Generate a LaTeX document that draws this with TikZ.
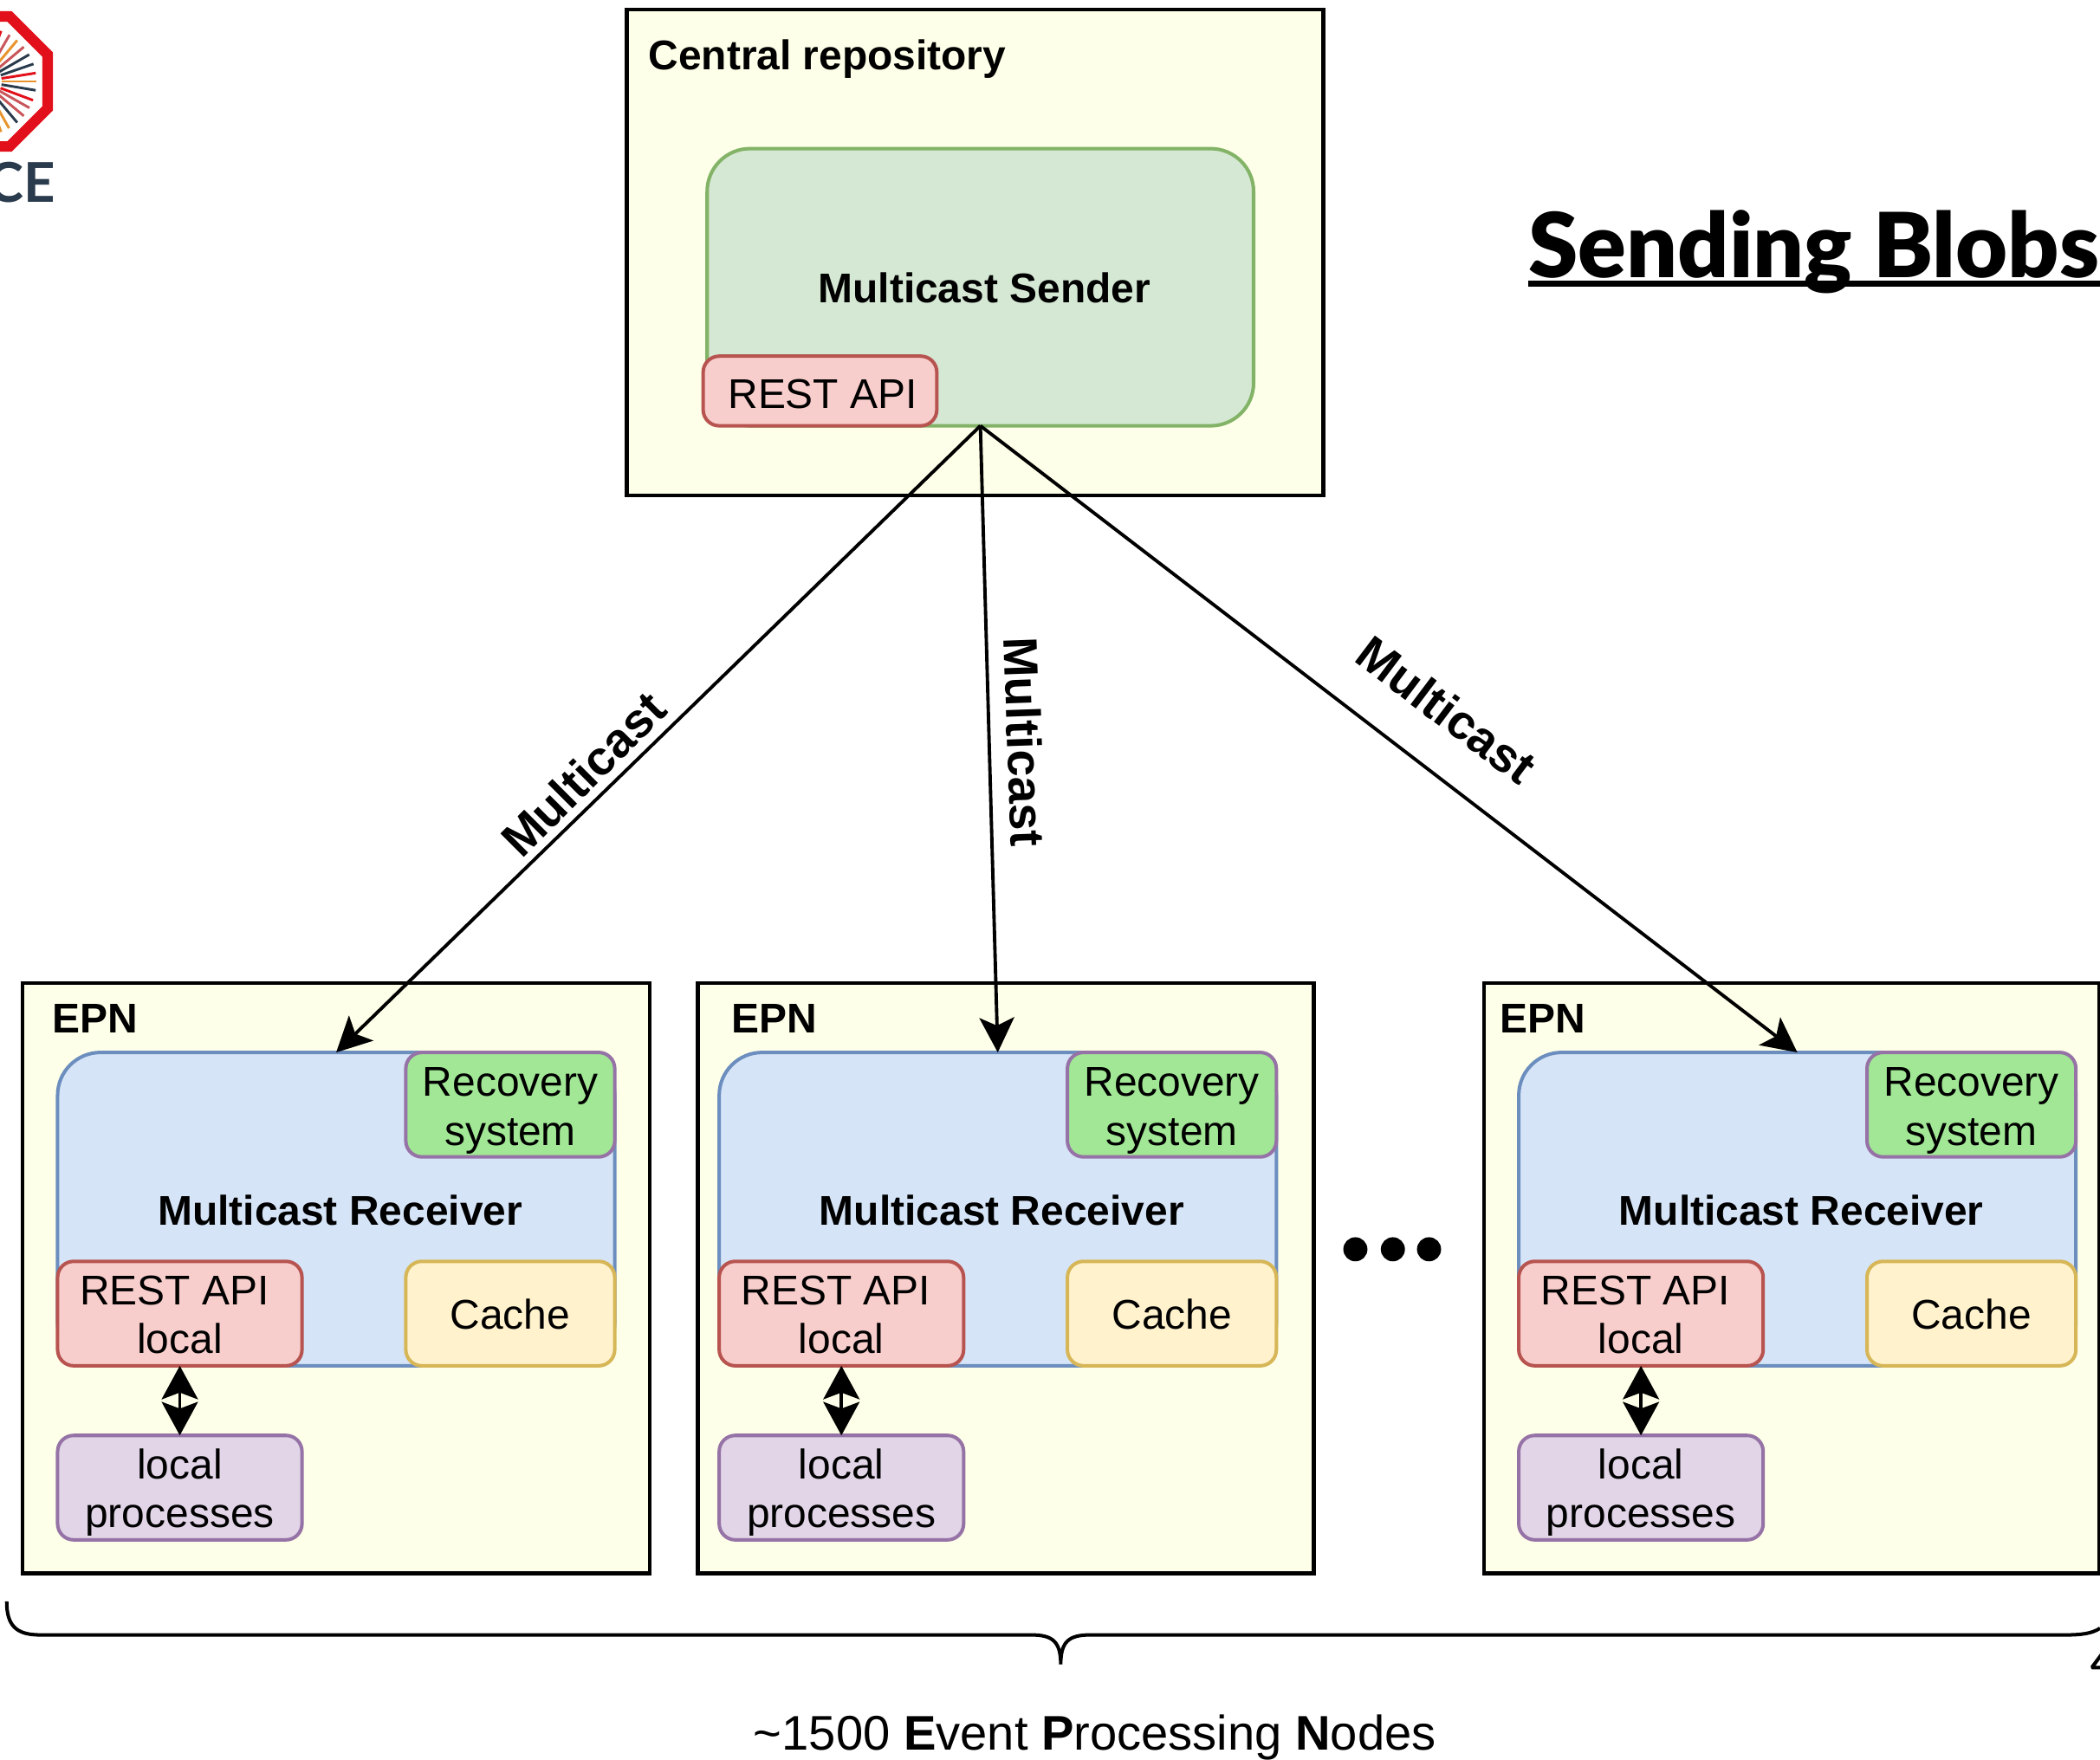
\documentclass[tikz,border=0pt]{standalone}
\usepackage{fontspec}
\setmainfont{Liberation Sans}
\newfontfamily\latofont{Lato}
\newfontfamily\latoblack{Lato Black}
\usetikzlibrary{arrows.meta}
\definecolor{panelfill}{HTML}{FEFFE8}
\definecolor{greenfill}{HTML}{D5E8D4}
\definecolor{greenline}{HTML}{82B366}
\definecolor{redfill}{HTML}{F8CECC}
\definecolor{redline}{HTML}{B85450}
\definecolor{bluefill}{HTML}{D6E4F7}
\definecolor{blueline}{HTML}{6C8EBF}
\definecolor{recfill}{HTML}{A1E795}
\definecolor{purpleline}{HTML}{9673A6}
\definecolor{yellowfill}{HTML}{FFF2CC}
\definecolor{yellowline}{HTML}{D6B656}
\definecolor{purplefill}{HTML}{E1D5E7}
\definecolor{logored}{HTML}{E2101A}
\definecolor{logonavy}{HTML}{2A3B4D}
\definecolor{logoorange}{HTML}{E8942E}
\definecolor{logosalmon}{HTML}{C9565A}
\newcommand{\fs}{\fontsize{31}{36.5}\selectfont}
\newcommand{\dn}[1]{\rule{0pt}{\dimexpr22.6pt+2\dimexpr#1pt\relax\relax}}
\tikzset{
  base/.style={line width=2.6pt,rectangle,inner sep=0pt,outer sep=0pt,align=center,font=\fs},
  panel/.style={base,draw=black,fill=panelfill,line width=2.8pt},
  sender/.style={base,draw=greenline,fill=greenfill,rounded corners=32pt},
  receiver/.style={base,draw=blueline,fill=bluefill,rounded corners=32pt},
  restbox/.style={base,draw=redline,fill=redfill,rounded corners=12pt},
  recbox/.style={base,draw=purpleline,fill=recfill,rounded corners=12pt},
  cachebox/.style={base,draw=yellowline,fill=yellowfill,rounded corners=12pt},
  procbox/.style={base,draw=purpleline,fill=purplefill,rounded corners=12pt},
  label/.style={font=\fs\bfseries,inner sep=0pt},
  mcastlabel/.style={font=\bfseries\fontsize{36}{36}\selectfont,inner sep=0pt},
  mcast/.style={line width=2.5pt,-{Stealth[length=26pt,width=26pt,inset=6pt]}},
  localarrow/.style={line width=2.5pt,{Stealth[length=25pt,width=27pt,inset=5pt]}-{Stealth[length=25pt,width=27pt,inset=5pt]}},
  dot/.style={circle,fill=black,inner sep=0pt,minimum size=18pt},
}
% name, style, x1, y1, x2, y2, text
\newcommand{\bx}[7]{%
  \pgfmathsetmacro{\bw}{#5-#3}\pgfmathsetmacro{\bh}{#6-#4}%
  \node[#2,anchor=north west,minimum width=\bw pt,minimum height=\bh pt] (#1) at (#3,#4) {#7};}
\begin{document}
\begin{tikzpicture}[x=1pt,y=-1pt]
\useasboundingbox (0,0) rectangle (1568,1313.8);
% logo
\begin{scope}
\clip (0,0) rectangle (100,170);
\begin{scope}[scale=0.647]
\draw[draw=logored,line width=7.8pt,fill=white] (-20,19) -- (11,19) -- (55,63) -- (55,125) -- (11,169) -- (-20,169) -- cycle;
\foreach \a/\c in {
 60.6/logoorange, 50/logonavy, 40/logosalmon, 29.5/logosalmon, 20.5/logored, 9.5/logonavy,
 0/logoorange, -9/logored, -19/logonavy, -30/logonavy, -40/logosalmon, -50/logoorange, -60/logosalmon, -70/logored, 70/logoorange}
  \draw[draw=\c,line width=1.9pt] ([shift={(-\a:22pt)}]-20,94) -- ([shift={(-\a:62pt)}]-20,94);
\end{scope}
\end{scope}
\node[anchor=base east,inner sep=0pt,text=logonavy,font=\latofont\bfseries\fontsize{41}{41}\selectfont] (ce) at (41.5,151) {CE};
% central repository
\bx{central}{panel}{468}{7}{988}{370}{}
\bx{sender}{sender}{528}{111}{936}{318}{}
\bx{rest}{restbox}{525}{266}{699.5}{318}{\dn{2}\hspace{4pt}REST API}
\node[label,anchor=west] (crlabel) at (484,44) {Central repository};
\node[label] (mslabel) at (735,215) {Multicast Sender};
% EPNs
\foreach \i/\d/\xa/\xb/\lx in {1/0/17/485/39, 2/494/521/981/546, 3/1091/1108/1567.5/1120}{
  \bx{epn\i}{panel}{\xa}{734}{\xb}{1175}{}
  \node[label,anchor=west] (epnlabel\i) at (\lx,761) {EPN};
  \pgfmathsetmacro{\xA}{43+\d}\pgfmathsetmacro{\xB}{459+\d}
  \pgfmathsetmacro{\xC}{303+\d}\pgfmathsetmacro{\xD}{225.5+\d}
  \bx{recv\i}{receiver}{\xA}{786}{\xB}{1020}{}
  \bx{rec\i}{recbox}{\xC}{786}{\xB}{864}{\dn{4}Recovery\\system}
  \bx{cache\i}{cachebox}{\xC}{942}{\xB}{1020}{\dn{0.5}Cache}
  \bx{local\i}{restbox}{\xA}{942}{\xD}{1020}{\dn{0.5}REST API\hspace{8pt}\mbox{}\\local}
  \bx{proc\i}{procbox}{\xA}{1072}{\xD}{1150}{\dn{3.5}local\\processes}
  \pgfmathsetmacro{\xE}{254+\d}
  \node[label] (mrlabel\i) at (\xE,904) {Multicast Receiver};
  \draw[localarrow] (local\i.south) -- (proc\i.north);
}
% multicast connectors
\draw[mcast] (sender.south) -- (recv1.north);
\draw[mcast] (sender.south) -- (recv2.north);
\draw[mcast] (sender.south) -- (recv3.north);
\node[mcastlabel,rotate=45] (m1) at (435.5,578) {Multicast};
\node[mcastlabel,rotate=-88] (m2) at (765,554) {Multicast};
\node[mcastlabel,rotate=-37] (m3) at (1080,530) {Multicast};
% dots
\node[dot] (d1) at (1012,933) {};
\node[dot] (d2) at (1040,933) {};
\node[dot] (d3) at (1067,933) {};
% title
\node[anchor=base west,inner sep=0pt,font=\latoblack\fontsize{67}{67}\selectfont] (title) at (1141,207) {Sending Blobs};
\coordinate (ula) at (title.base west);
\coordinate (ulb) at (title.base east);
\draw[line width=4.5pt] ([yshift=-5pt]ula) -- ([yshift=-5pt]ulb);
% brace
\coordinate (ba) at (5,1196);
\coordinate (bb) at (792,1243);
\coordinate (bc) at (1568,1216);
\draw[line width=2.6pt] (ba) .. controls (5,1214) and (12,1221) .. (30,1221) -- (770,1221)
  .. controls (786,1221) and (792,1226) .. (bb) .. controls (792,1226) and (798,1221) .. (814,1221)
  -- (1542,1221) .. controls (1554,1221) and (1562,1220) .. (bc);
\node[font=\fontsize{36.3}{36.3}\selectfont,inner sep=0pt] (nodes) at (817.5,1297.5) {\textasciitilde 1500 \textbf{E}vent \textbf{P}rocessing \textbf{N}odes};
\node[anchor=base west,inner sep=0pt,font=\latofont\bfseries\fontsize{28}{28}\selectfont] (page) at (1561,1252) {4};
\end{tikzpicture}
\end{document}
